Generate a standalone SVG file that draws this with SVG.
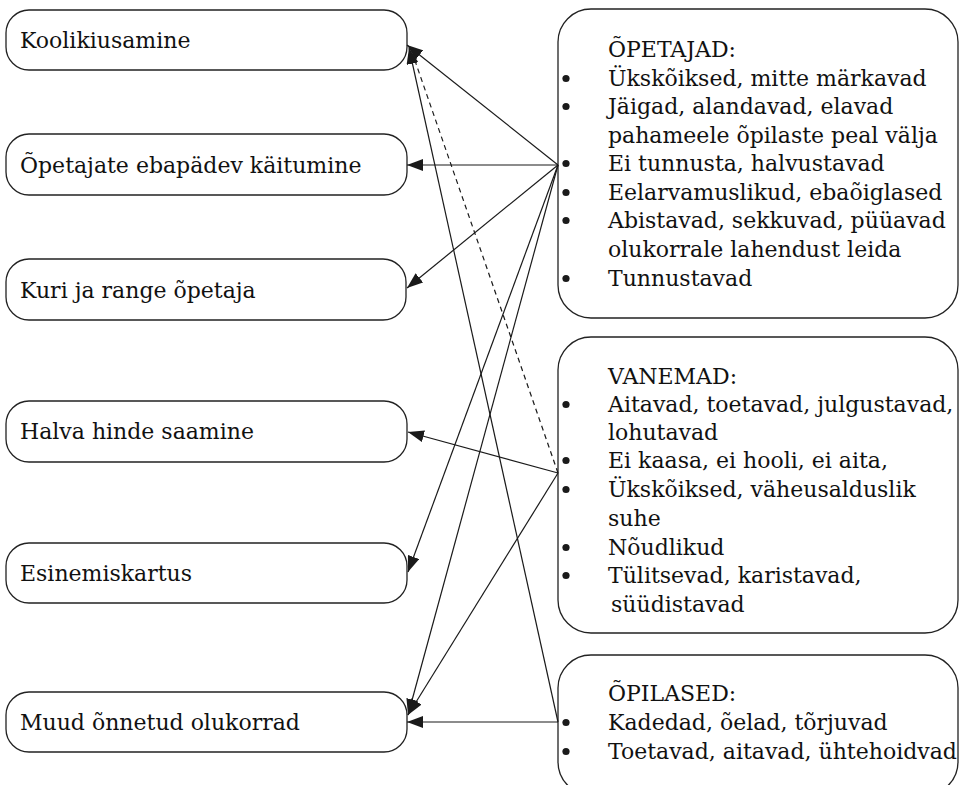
<svg xmlns="http://www.w3.org/2000/svg" width="960" height="785" viewBox="0 0 960 785">
<defs>
<style>
.box{fill:#fff;stroke:#222;stroke-width:1.3}
.t{font-family:"DejaVu Serif","Liberation Serif",serif;font-size:22px;fill:#111}
.c{fill:none;stroke:#1a1a1a;stroke-width:1.2}
.d{stroke-dasharray:5,4}
.b{fill:#1a1a1a}
</style>
<marker id="ah" viewBox="0 0 16 12" refX="16" refY="6" markerWidth="16" markerHeight="12" markerUnits="userSpaceOnUse" orient="auto">
<path d="M0,0 L16,6 L0,12 Z" fill="#1a1a1a"/>
</marker>
</defs>
<rect width="960" height="785" fill="#fff"/>
<g id="n-koolikiusamine"><rect class="box" x="6" y="10" width="401" height="60" rx="23"/><text class="t" x="20" y="48">Koolikiusamine</text></g>
<g id="n-opetajate"><rect class="box" x="6" y="134" width="401" height="61" rx="23"/><text class="t" x="20" y="173">Õpetajate ebapädev käitumine</text></g>
<g id="n-kuri"><rect class="box" x="6" y="259" width="400" height="61" rx="23"/><text class="t" x="20" y="298">Kuri ja range õpetaja</text></g>
<g id="n-halva"><rect class="box" x="6" y="401" width="401" height="61" rx="23"/><text class="t" x="20" y="439">Halva hinde saamine</text></g>
<g id="n-esinemis"><rect class="box" x="6" y="543" width="401" height="60" rx="23"/><text class="t" x="20" y="581">Esinemiskartus</text></g>
<g id="n-muud"><rect class="box" x="6" y="692" width="401" height="60" rx="23"/><text class="t" x="20" y="730">Muud õnnetud olukorrad</text></g>
<g id="n-opetajad"><rect class="box" x="558" y="9" width="400" height="309" rx="33"/>
<text class="t" x="608" y="57">ÕPETAJAD:</text>
<text class="t" x="608" y="86">Ükskõiksed, mitte märkavad</text>
<text class="t" x="608" y="114">Jäigad, alandavad, elavad</text>
<text class="t" x="608" y="143">pahameele õpilaste peal välja</text>
<text class="t" x="608" y="171">Ei tunnusta, halvustavad</text>
<text class="t" x="608" y="200">Eelarvamuslikud, ebaõiglased</text>
<text class="t" x="608" y="228">Abistavad, sekkuvad, püüavad</text>
<text class="t" x="608" y="257">olukorrale lahendust leida</text>
<text class="t" x="608" y="286">Tunnustavad</text>
<circle class="b" cx="566" cy="78.5" r="3.6"/><circle class="b" cx="566" cy="106.5" r="3.6"/><circle class="b" cx="566" cy="163.5" r="3.6"/><circle class="b" cx="566" cy="192.5" r="3.6"/><circle class="b" cx="566" cy="220.5" r="3.6"/><circle class="b" cx="566" cy="278.5" r="3.6"/>
</g>
<g id="n-vanemad"><rect class="box" x="558" y="337" width="400" height="296" rx="33"/>
<text class="t" x="608" y="384">VANEMAD:</text>
<text class="t" x="608" y="412">Aitavad, toetavad, julgustavad,</text>
<text class="t" x="608" y="440">lohutavad</text>
<text class="t" x="608" y="468">Ei kaasa, ei hooli, ei aita,</text>
<text class="t" x="608" y="497">Ükskõiksed, väheusalduslik</text>
<text class="t" x="608" y="526">suhe</text>
<text class="t" x="608" y="555">Nõudlikud</text>
<text class="t" x="608" y="583">Tülitsevad, karistavad,</text>
<text class="t" x="611" y="612">süüdistavad</text>
<circle class="b" cx="566" cy="404.5" r="3.6"/><circle class="b" cx="566" cy="460.5" r="3.6"/><circle class="b" cx="566" cy="489.5" r="3.6"/><circle class="b" cx="566" cy="547.5" r="3.6"/><circle class="b" cx="566" cy="575.5" r="3.6"/>
</g>
<g id="n-opilased"><rect class="box" x="558" y="655" width="400" height="140" rx="33"/>
<text class="t" x="608" y="701">ÕPILASED:</text>
<text class="t" x="608" y="730">Kadedad, õelad, tõrjuvad</text>
<text class="t" x="608" y="759">Toetavad, aitavad, ühtehoidvad</text>
<circle class="b" cx="566" cy="722.5" r="3.6"/><circle class="b" cx="566" cy="751.5" r="3.6"/>
</g>
<g id="connectors">
<line class="c" x1="558" y1="165" x2="407" y2="45" marker-end="url(#ah)"/>
<line class="c" x1="558" y1="165" x2="407" y2="165" marker-end="url(#ah)"/>
<line class="c" x1="558" y1="165" x2="407" y2="288" marker-end="url(#ah)"/>
<line class="c" x1="558" y1="165" x2="408" y2="572" marker-end="url(#ah)"/>
<line class="c" x1="558" y1="165" x2="408" y2="715" marker-end="url(#ah)"/>
<line class="c" x1="558" y1="473" x2="408" y2="432" marker-end="url(#ah)"/>
<line class="c d" x1="558" y1="473" x2="413" y2="55"/>
<line class="c" x1="558" y1="473" x2="408" y2="715" marker-end="url(#ah)"/>
<line class="c" x1="558" y1="722" x2="409" y2="48" marker-end="url(#ah)"/>
<line class="c" x1="558" y1="722" x2="407" y2="722" marker-end="url(#ah)"/>
</g>
</svg>
